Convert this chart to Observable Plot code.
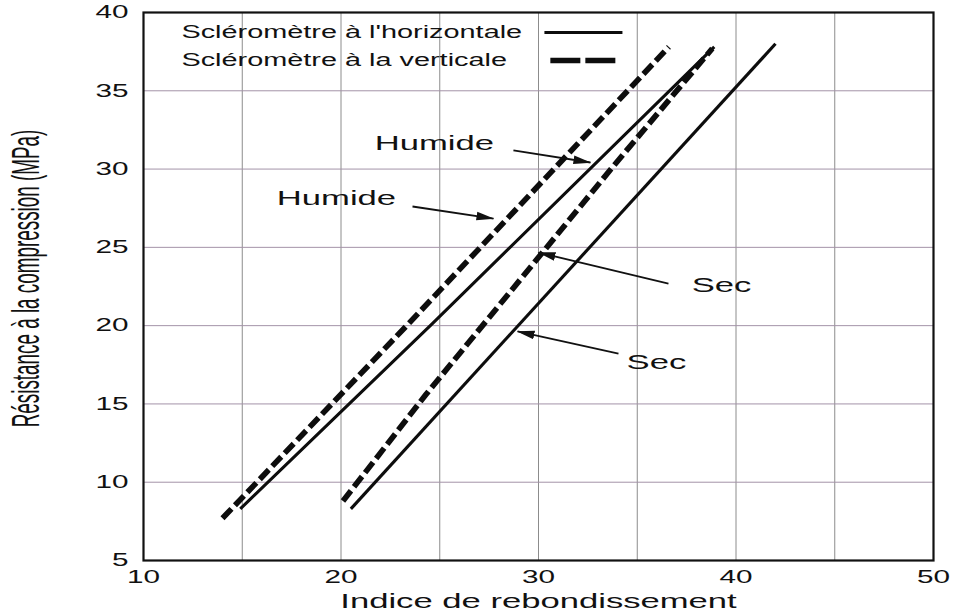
<!DOCTYPE html>
<html>
<head>
<meta charset="utf-8">
<script src="https://cdn.jsdelivr.net/npm/d3@7"></script>
<script src="https://cdn.jsdelivr.net/npm/@observablehq/plot@0.6"></script>
<style>
  html, body { margin: 0; padding: 0; background: #fff; }
  svg { display: block; }
</style>
</head>
<body>
<div id="chart"></div>
<script>
// ---- axis ticks and grid ----
const xTicks = [10, 20, 30, 40, 50];
const yTicks = [5, 10, 15, 20, 25, 30, 35, 40];
const xGrid = [15, 20, 25, 30, 35, 40, 45];
const yGrid = [10, 15, 20, 25, 30, 35];

// ---- series ----
const humideHorizontaleX = [14.9, 24.6, 38.9];
const humideHorizontaleY = [8.3, 20.1, 37.8];
const humideVerticaleX = [14.0, 23.4, 36.6];
const humideVerticaleY = [7.7, 20.1, 37.8];
const secHorizontaleX = [20.5, 42.0];
const secHorizontaleY = [8.3, 38.0];
const secVerticaleX = [20.1, 24.3, 33.8, 38.8];
const secVerticaleY = [8.8, 15.6, 30.2, 37.7];

// ---- legend ----
const legendLabels = ["Scléromètre à l'horizontale", "Scléromètre à la verticale"];
const legendTextX = [11.92, 11.92];
const legendY = [38.72, 36.93];
const legendLineX1 = [30.3, 30.6];
const legendLineX2 = [34.25, 33.9];

// ---- annotations ----
const noteLabels = ["Humide", "Humide", "Sec", "Sec"];
const noteX = [24.73, 19.77, 39.27, 35.97];
const noteY = [31.63, 28.12, 22.56, 17.65];
const arrowX1 = [28.73, 23.62, 36.58, 34.05];
const arrowY1 = [31.19, 27.61, 22.69, 18.22];
const arrowX2 = [32.63, 27.72, 30.0, 28.94];
const arrowY2 = [30.42, 26.84, 24.67, 19.63];

const xTitle = "Indice de rebondissement";
const yTitle = "Résistance à la compression (MPa)";

// ---- build tables ----
const toRows = (name, xs, ys) => xs.map((x, i) => ({series: name, x, y: ys[i]}));
const solidRows = [
  ...toRows("Humide horizontale", humideHorizontaleX, humideHorizontaleY),
  ...toRows("Sec horizontale", secHorizontaleX, secHorizontaleY)
];
const dashedRows = [
  ...toRows("Humide verticale", humideVerticaleX, humideVerticaleY),
  ...toRows("Sec verticale", secVerticaleX, secVerticaleY)
];
const legendRows = legendLabels.map((t, i) => ({t, x: legendTextX[i], y: legendY[i], x1: legendLineX1[i], x2: legendLineX2[i]}));
const noteRows = noteLabels.map((t, i) => ({t, x: noteX[i], y: noteY[i]}));
const arrowRows = arrowX1.map((x1, i) => ({x1, y1: arrowY1[i], x2: arrowX2[i], y2: arrowY2[i]}));

const INK = "#111";

function filledArrow(color, context) {
  const doc = (context && context.document) || document;
  const ns = "http://www.w3.org/2000/svg";
  const m = doc.createElementNS(ns, "marker");
  m.setAttribute("viewBox", "0 -5 18 10");
  m.setAttribute("markerUnits", "userSpaceOnUse");
  m.setAttribute("markerWidth", "18");
  m.setAttribute("markerHeight", "10");
  m.setAttribute("refX", "17");
  m.setAttribute("refY", "0");
  m.setAttribute("orient", "auto");
  const p = doc.createElementNS(ns, "path");
  p.setAttribute("d", "M0,-4.3L18,0L0,4.3Z");
  p.setAttribute("fill", color);
  p.setAttribute("stroke", "none");
  m.appendChild(p);
  return m;
}

function build(marker) {
  return Plot.plot({
    width: 955,
    height: 612,
    marginLeft: 143,
    marginRight: 22,
    marginTop: 12,
    marginBottom: 52,
    x: {domain: [10, 50], label: null},
    y: {domain: [5, 40], label: null},
    style: {fontFamily: "'Liberation Sans', Arial, Helvetica, sans-serif", color: INK, background: "#fff"},
    marks: [
      Plot.ruleX(xGrid, {stroke: "#8c8c8c", strokeWidth: 1}),
      Plot.ruleY(yGrid, {stroke: "#a493a8", strokeWidth: 1}),
      Plot.frame({stroke: "#111", strokeWidth: 2.2}),
      Plot.axisX(xTicks, {tickSize: 0, tickPadding: 10, fontSize: 18, label: null}),
      Plot.axisY(yTicks, {tickSize: 0, tickPadding: 15, fontSize: 18, label: null}),
      Plot.line(solidRows, {x: "x", y: "y", z: "series", stroke: "#0d0d0d", strokeWidth: 3.1, strokeLinecap: "butt"}),
      Plot.line(dashedRows, {x: "x", y: "y", z: "series", stroke: "#0d0d0d", strokeWidth: 5.6, strokeDasharray: "13,5", strokeLinecap: "butt"}),
      Plot.link(legendRows.slice(0, 1), {x1: "x1", x2: "x2", y1: "y", y2: "y", stroke: "#0d0d0d", strokeWidth: 3, strokeLinecap: "butt"}),
      Plot.link(legendRows.slice(1), {x1: "x1", x2: "x2", y1: "y", y2: "y", stroke: "#0d0d0d", strokeWidth: 5.5, strokeDasharray: "30,5", strokeLinecap: "butt"}),
      Plot.text(legendRows, {x: "x", y: "y", text: "t", textAnchor: "start", lineAnchor: "middle", fontSize: 17.5, fill: INK}),
      Plot.text(noteRows, {x: "x", y: "y", text: "t", textAnchor: "middle", lineAnchor: "middle", fontSize: 21, fill: INK}),
      Plot.link(arrowRows, {x1: "x1", y1: "y1", x2: "x2", y2: "y2", stroke: "#111", strokeWidth: 1.8, markerEnd: marker}),
      Plot.text([xTitle], {frameAnchor: "bottom", dy: 33, textAnchor: "middle", lineAnchor: "top", fontSize: 21, fill: INK}),
      Plot.text([yTitle], {frameAnchor: "left", rotate: -90, dx: -116.5, dy: -8, textAnchor: "middle", lineAnchor: "middle", fontSize: 23, fill: INK})
    ]
  });
}

let chart;
try { chart = build(filledArrow); } catch (e) { chart = build("arrow"); }

// the reference picture is stretched horizontally: reproduce this on the texts
const SX = 1.65;
chart.querySelectorAll("text").forEach((t) => {
  const tr = t.getAttribute("transform") || "";
  if (/rotate\(/.test(tr)) {
    t.setAttribute("transform", tr + ` scale(0.82,${SX})`);
  } else if (tr) {
    t.setAttribute("transform", tr + ` scale(${SX},1)`);
  } else {
    const x = +t.getAttribute("x") || 0, y = +t.getAttribute("y") || 0;
    t.setAttribute("transform", `translate(${x},${y}) scale(${SX},1) translate(${-x},${-y})`);
  }
});

document.getElementById("chart").appendChild(chart);
</script>
</body>
</html>
